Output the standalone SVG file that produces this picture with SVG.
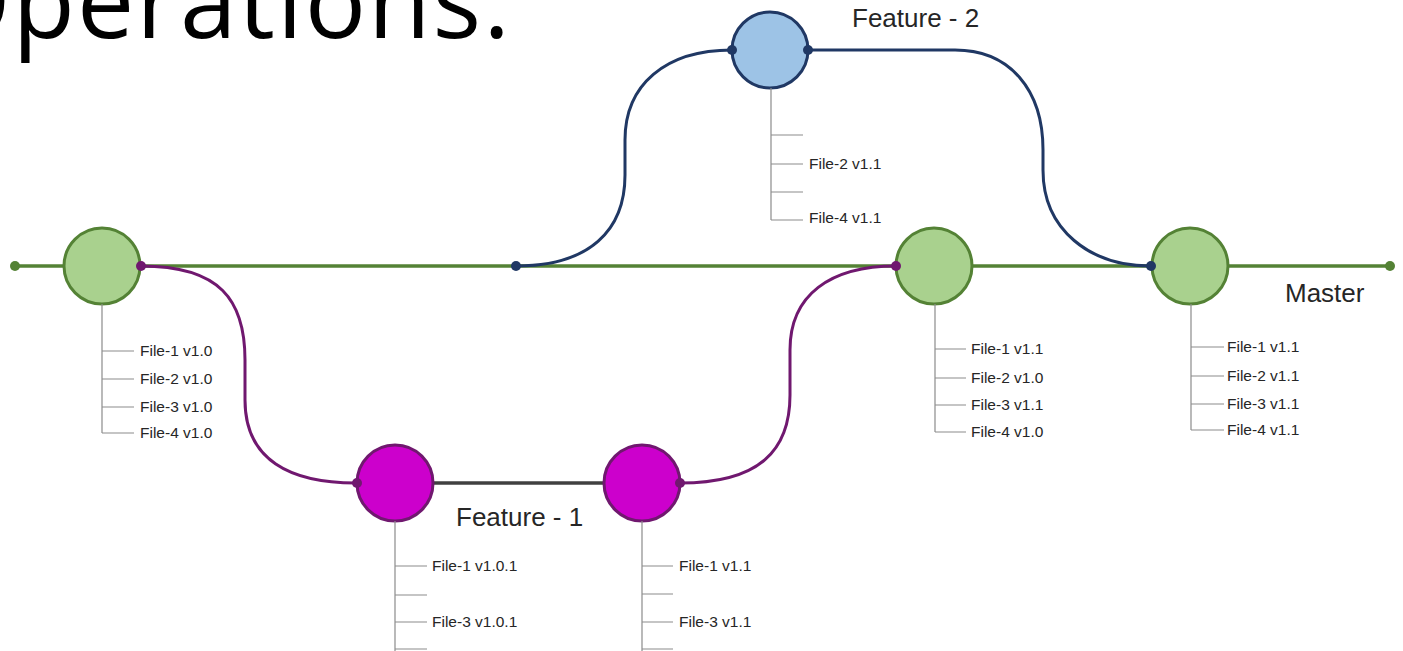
<svg xmlns="http://www.w3.org/2000/svg" width="1403" height="651" viewBox="0 0 1403 651">
<style>
.bg{fill:#ffffff}
.main{stroke:#548235;stroke-width:3.5;fill:none}
.pur{stroke:#70186f;stroke-width:3;fill:none}
.blu{stroke:#203864;stroke-width:3;fill:none}
.gry{stroke:#404040;stroke-width:3.5;fill:none}
.g-node{fill:#a9d18e;stroke:#548235;stroke-width:3}
.p-node{fill:#cc00cc;stroke:#70186f;stroke-width:3}
.b-node{fill:#9dc3e6;stroke:#203864;stroke-width:3}
.tree{stroke:#8c8c8c;stroke-width:1.2;fill:none}
.file{font-family:"Liberation Sans",Arial,sans-serif;font-size:15.5px;fill:#262626}
.lbl{font-family:"Liberation Sans",Arial,sans-serif;font-size:26px;fill:#262626}
.title{font-family:"Open Sans","Liberation Sans",sans-serif;font-size:102px;fill:#000}
</style>
<rect class="bg" x="0" y="0" width="1403" height="651"/>
<text class="title" x="512" y="38" text-anchor="end" letter-spacing="2">Operations.</text>

<g id="connectors">
<line class="main" x1="15" y1="266" x2="1390" y2="266"/>
<path class="pur" d="M141,266 C220,266 245,300 245,360 L245,400 C245,460 290,483 356,483"/>
<line class="gry" x1="433" y1="483" x2="604" y2="483"/>
<path class="pur" d="M680,483 C760,483 790,450 790,395 L790,350 C790,295 830,266 896,266"/>
<path class="blu" d="M516,266 C590,266 625,230 625,175 L625,140 C625,85 665,50 732,50"/>
<path class="blu" d="M808,50 L955,50 C1010,50 1043,90 1043,150 L1043,170 C1043,230 1090,266 1151,266"/>
</g>

<g id="node-m1">
<circle class="g-node" cx="102" cy="266" r="38"/>
<path class="tree" d="M102,304 V433 M102,351 H134 M102,379 H134 M102,407 H134 M102,433 H134"/>
<text class="file" x="140" y="356">File-1 v1.0</text>
<text class="file" x="140" y="384">File-2 v1.0</text>
<text class="file" x="140" y="412">File-3 v1.0</text>
<text class="file" x="140" y="438">File-4 v1.0</text>
</g>

<g id="node-m2">
<circle class="g-node" cx="934" cy="266" r="38"/>
<path class="tree" d="M935,304 V432 M935,349 H966 M935,378 H966 M935,405 H966 M935,432 H966"/>
<text class="file" x="971" y="354">File-1 v1.1</text>
<text class="file" x="971" y="383">File-2 v1.0</text>
<text class="file" x="971" y="410">File-3 v1.1</text>
<text class="file" x="971" y="437">File-4 v1.0</text>
</g>

<g id="node-m3">
<circle class="g-node" cx="1190" cy="266" r="38"/>
<path class="tree" d="M1191,304 V430 M1191,347 H1224 M1191,376 H1224 M1191,404 H1224 M1191,430 H1224"/>
<text class="file" x="1227" y="352">File-1 v1.1</text>
<text class="file" x="1227" y="381">File-2 v1.1</text>
<text class="file" x="1227" y="409">File-3 v1.1</text>
<text class="file" x="1227" y="435">File-4 v1.1</text>
<text class="lbl" x="1285" y="302">Master</text>
</g>

<g id="node-f1a">
<circle class="p-node" cx="395" cy="483" r="38"/>
<path class="tree" d="M395,521 V651 M395,566 H427 M395,595 H427 M395,622 H427 M395,649 H427"/>
<text class="file" x="432" y="571">File-1 v1.0.1</text>
<text class="file" x="432" y="627">File-3 v1.0.1</text>
<text class="lbl" x="456" y="526">Feature - 1</text>
</g>

<g id="node-f1b">
<circle class="p-node" cx="642" cy="483" r="38"/>
<path class="tree" d="M642,521 V651 M642,566 H673 M642,594 H673 M642,622 H673 M642,649 H673"/>
<text class="file" x="679" y="571">File-1 v1.1</text>
<text class="file" x="679" y="627">File-3 v1.1</text>
</g>

<g id="node-f2">
<circle class="b-node" cx="770" cy="50" r="38"/>
<path class="tree" d="M771,88 V220 M771,135 H803 M771,164 H803 M771,192 H803 M771,220 H803"/>
<text class="file" x="809" y="169">File-2 v1.1</text>
<text class="file" x="809" y="223">File-4 v1.1</text>
<text class="lbl" x="852" y="27">Feature - 2</text>
</g>

<g id="dots">
<circle cx="15" cy="266" r="5" fill="#548235"/>
<circle cx="1390" cy="266" r="5" fill="#548235"/>
<circle cx="141" cy="266" r="5" fill="#70186f"/>
<circle cx="357" cy="483" r="5" fill="#70186f"/>
<circle cx="680" cy="483" r="5" fill="#70186f"/>
<circle cx="896" cy="266" r="5" fill="#70186f"/>
<circle cx="516" cy="266" r="5" fill="#203864"/>
<circle cx="732" cy="50" r="5" fill="#203864"/>
<circle cx="808" cy="50" r="5" fill="#203864"/>
<circle cx="1151" cy="266" r="5" fill="#203864"/>
</g>
</svg>
